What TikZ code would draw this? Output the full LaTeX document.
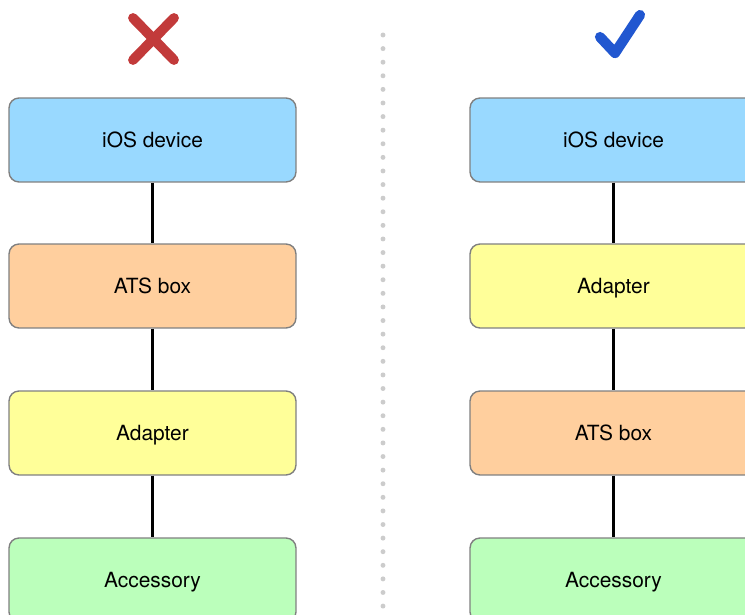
\documentclass[tikz,border=0pt]{standalone}
\usepackage{fontspec}
\setmainfont{TeX Gyre Heros}
\usepackage{tikz}
\definecolor{devblue}{RGB}{153,217,255}
\definecolor{atsorange}{RGB}{255,207,158}
\definecolor{adpyellow}{RGB}{255,255,153}
\definecolor{accgreen}{RGB}{187,255,187}
\definecolor{boxgray}{RGB}{128,128,128}
\definecolor{badred}{RGB}{194,58,58}
\definecolor{goodblue}{RGB}{33,87,208}
\definecolor{dotgray}{RGB}{204,204,204}
\tikzstyle{box_n} = [rectangle, rounded corners=0.2cm, draw=boxgray, line width=0.8pt, align=center, inner sep=0pt, minimum width=5.74cm, minimum height=1.68cm, text height=0.9em, text depth=0pt, font=\fontsize{11.9}{14}\selectfont]
\tikzstyle{box_dev} = [box_n, fill=devblue]
\tikzstyle{box_ats} = [box_n, fill=atsorange]
\tikzstyle{box_adp} = [box_n, fill=adpyellow]
\tikzstyle{box_acc} = [box_n, fill=accgreen]
\tikzstyle{wire} = [line width=1.2pt, black]
\tikzstyle{mark_x} = [line width=5.6pt, line cap=round, badred]
\tikzstyle{mark_ok} = [line width=5.8pt, line cap=round, line join=round, goodblue]

\begin{document}
\begin{tikzpicture}[x=0.02cm, y=-0.02cm]
\clip (0,0) rectangle (745,615);
\fill[white] (0,0) rectangle (745,615);

% separator
\draw[dotgray, line width=2.8pt, line cap=round, dash pattern=on 0pt off 0.272cm] (383,35) -- (383,620);

% wrong order
\draw[mark_x] (133,18) -- (174,60);
\draw[mark_x] (174,18) -- (133,60);
\node [box_dev] (l_dev) at (152.5,140) {iOS device};
\node [box_ats] (l_ats) at (152.5,286) {ATS box};
\node [box_adp] (l_adp) at (152.5,433) {Adapter};
\node [box_acc] (l_acc) at (152.5,580) {Accessory};
\draw[wire] (l_dev) -- (l_ats);
\draw[wire] (l_ats) -- (l_adp);
\draw[wire] (l_adp) -- (l_acc);

% right order
\draw[mark_ok] (600,37) -- (615,53) -- (640,15);
\node [box_dev] (r_dev) at (613.5,140) {iOS device};
\node [box_adp] (r_adp) at (613.5,286) {Adapter};
\node [box_ats] (r_ats) at (613.5,433) {ATS box};
\node [box_acc] (r_acc) at (613.5,580) {Accessory};
\draw[wire] (r_dev) -- (r_adp);
\draw[wire] (r_adp) -- (r_ats);
\draw[wire] (r_ats) -- (r_acc);
\end{tikzpicture}
\end{document}
